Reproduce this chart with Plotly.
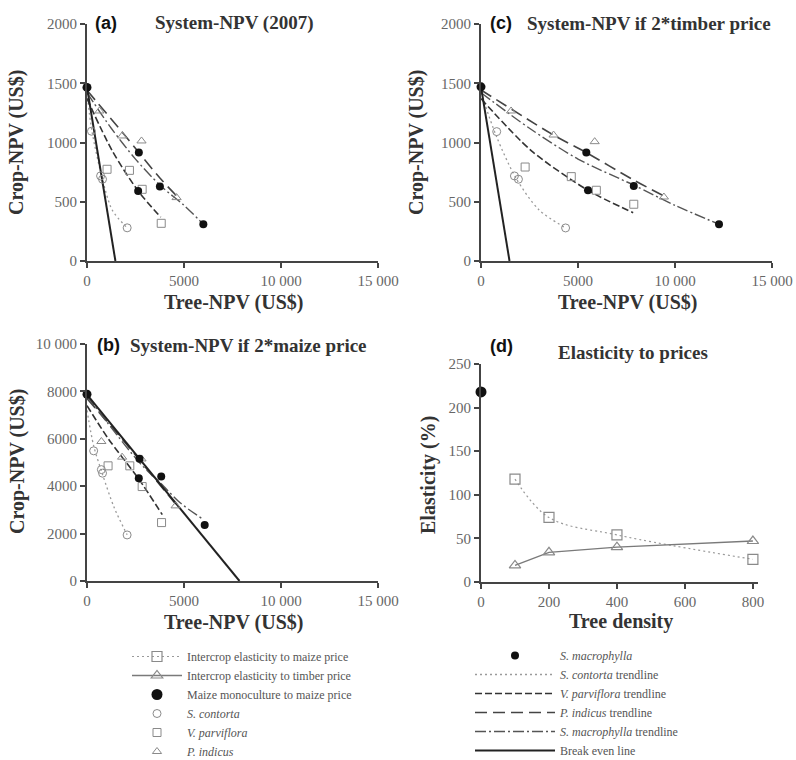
import plotly.graph_objects as go

# ---------------- data ----------------
# Panel (a) System-NPV (2007): tree-NPV (x) vs crop-NPV (y)
mono_a_x = [0]; mono_a_y = [1465]
a_contorta_x = [230, 700, 800, 2070]; a_contorta_y = [1095, 718, 690, 280]
a_parviflora_x = [1034, 2188, 2844, 3826]; a_parviflora_y = [774, 765, 605, 318]
a_indicus_x = [638, 1810, 2810, 4617]; a_indicus_y = [1266, 1055, 1013, 535]
a_macro_x = [2672, 2637, 3757, 5997]; a_macro_y = [915, 591, 628, 310]
a_tr_contorta_x = [0, 250, 750, 1300, 2070]; a_tr_contorta_y = [1420, 1100, 720, 430, 280]
a_tr_parviflora_x = [0, 1300, 2637, 3800]; a_tr_parviflora_y = [1370, 930, 591, 370]
a_tr_indicus_x = [0, 1800, 2672, 3757, 4617]; a_tr_indicus_y = [1440, 1090, 915, 700, 550]
a_tr_macro_x = [0, 1250, 2500, 3757, 5000, 5997]; a_tr_macro_y = [1420, 1120, 860, 640, 470, 310]
a_break_x = [0, 1465]; a_break_y = [1465, 0]

# Panel (c) System-NPV if 2*timber price
mono_c_x = [0]; mono_c_y = [1470]
c_contorta_x = [810, 1723, 1930, 4360]; c_contorta_y = [1092, 718, 690, 279]
c_parviflora_x = [2275, 4653, 5945, 7875]; c_parviflora_y = [793, 712, 597, 479]
c_indicus_x = [1551, 3740, 5860, 9427]; c_indicus_y = [1266, 1063, 1007, 540]
c_macro_x = [5429, 5515, 7875, 12268]; c_macro_y = [915, 597, 633, 310]
c_tr_contorta_x = [0, 800, 1800, 3000, 4360]; c_tr_contorta_y = [1420, 1050, 700, 430, 279]
c_tr_parviflora_x = [0, 2600, 5515, 7843]; c_tr_parviflora_y = [1370, 930, 597, 408]
c_tr_indicus_x = [0, 3740, 5429, 7800, 9373]; c_tr_indicus_y = [1443, 1063, 915, 690, 553]
c_tr_macro_x = [0, 2500, 5000, 7875, 10000, 12268]; c_tr_macro_y = [1420, 1120, 860, 640, 470, 310]
c_break_x = [0, 1470]; c_break_y = [1470, 0]

# Panel (b) System-NPV if 2*maize price
mono_b_x = [0]; mono_b_y = [7880]
b_contorta_x = [344, 740, 800, 2068]; b_contorta_y = [5493, 4700, 4549, 1943]
b_parviflora_x = [1086, 2206, 2844, 3843]; b_parviflora_y = [4859, 4859, 3985, 2465]
b_indicus_x = [741, 1810, 2810, 4567]; b_indicus_y = [5886, 5225, 5150, 3169]
b_macro_x = [2705, 2670, 3826, 6066]; b_macro_y = [5154, 4338, 4408, 2366]
b_tr_contorta_x = [0, 344, 800, 1400, 2068]; b_tr_contorta_y = [7200, 5700, 4500, 3100, 1950]
b_tr_parviflora_x = [0, 1100, 2670, 3880]; b_tr_parviflora_y = [7400, 6000, 4300, 2800]
b_tr_indicus_x = [0, 1800, 2810, 4567]; b_tr_indicus_y = [7700, 6000, 5000, 3250]
b_tr_macro_x = [0, 2700, 3826, 4800, 5900]; b_tr_macro_y = [7800, 5000, 4100, 3300, 2650]
b_break_x = [0, 7860]; b_break_y = [7860, 0]

# Panel (d) Elasticity to prices
density = [100, 200, 400, 800]
maize_elasticity = [118, 74, 54, 26]
timber_elasticity = [19, 34, 40, 47]
mono_density = [0]; mono_elasticity = [218]

# ticks
npv_x_ticks = [0, 5000, 10000, 15000]; npv_x_text = ["0", "5000", "10 000", "15 000"]
a_y_ticks = [0, 500, 1000, 1500, 2000]; a_y_text = ["0", "500", "1000", "1500", "2000"]
b_y_ticks = [0, 2000, 4000, 6000, 8000, 10000]; b_y_text = ["0", "2000", "4000", "6000", "8000", "10 000"]
d_x_ticks = [0, 200, 400, 600, 800]
d_y_ticks = [0, 50, 100, 150, 200, 250]

# ---------------- style ----------------
SERIF = "Liberation Serif, Times New Roman, serif"
SANS = "Liberation Sans, Arial, sans-serif"
OPEN_C = "#8a8a8a"
BLACK = "#111111"
styles = {
    "contorta": dict(color="#9a9a9a", width=1.3, dash="2px,3px"),
    "parviflora": dict(color="#333333", width=1.6, dash="7px,3px"),
    "indicus": dict(color="#444444", width=1.6, dash="12px,6px"),
    "macro": dict(color="#555555", width=1.4, dash="11px,3px,2px,3px"),
    "break": dict(color="#222222", width=2),
}

fig = go.Figure()

def add_panel(xa, ya, mono, pts, trends, brk, first):
    names = {"contorta": "<i>S. contorta</i> trendline",
             "parviflora": "<i>V. parviflora</i> trendline",
             "indicus": "<i>P. indicus</i> trendline",
             "macro": "<i>S. macrophylla</i> trendline"}
    for key in ["contorta", "parviflora", "indicus", "macro"]:
        tx, ty = trends[key]
        fig.add_trace(go.Scatter(x=tx, y=ty, mode="lines", line=dict(shape="spline", smoothing=0.8, **styles[key]),
                                 xaxis=xa, yaxis=ya, name=names[key], legend="legend2",
                                 showlegend=first, legendrank={"contorta": 2, "parviflora": 3, "indicus": 4, "macro": 5}[key],
                                 hoverinfo="skip"))
    fig.add_trace(go.Scatter(x=brk[0], y=brk[1], mode="lines", line=styles["break"], xaxis=xa, yaxis=ya,
                             name="Break even line", legend="legend2", showlegend=first, legendrank=6,
                             cliponaxis=False))
    sym = {"contorta": ("circle-open", "<i>S. contorta</i>", 4),
           "parviflora": ("square-open", "<i>V. parviflora</i>", 5),
           "indicus": ("triangle-up-open", "<i>P. indicus</i>", 6)}
    for key in ["contorta", "parviflora", "indicus"]:
        px_, py_ = pts[key]
        s, n, r = sym[key]
        fig.add_trace(go.Scatter(x=px_, y=py_, mode="markers",
                                 marker=dict(symbol=s, size=8, color=OPEN_C, line=dict(width=1, color=OPEN_C)),
                                 xaxis=xa, yaxis=ya, name=n, legend="legend", showlegend=first, legendrank=r))
    mx, my = pts["macro"]
    fig.add_trace(go.Scatter(x=mx, y=my, mode="markers", marker=dict(symbol="circle", size=8, color=BLACK),
                             xaxis=xa, yaxis=ya, name="<i>S. macrophylla</i>", legend="legend2",
                             showlegend=first, legendrank=1))
    fig.add_trace(go.Scatter(x=mono[0], y=mono[1], mode="markers", marker=dict(symbol="circle", size=9, color=BLACK),
                             xaxis=xa, yaxis=ya, showlegend=False, cliponaxis=False))

add_panel("x", "y", (mono_a_x, mono_a_y),
          {"contorta": (a_contorta_x, a_contorta_y), "parviflora": (a_parviflora_x, a_parviflora_y),
           "indicus": (a_indicus_x, a_indicus_y), "macro": (a_macro_x, a_macro_y)},
          {"contorta": (a_tr_contorta_x, a_tr_contorta_y), "parviflora": (a_tr_parviflora_x, a_tr_parviflora_y),
           "indicus": (a_tr_indicus_x, a_tr_indicus_y), "macro": (a_tr_macro_x, a_tr_macro_y)},
          (a_break_x, a_break_y), False)
add_panel("x2", "y2", (mono_c_x, mono_c_y),
          {"contorta": (c_contorta_x, c_contorta_y), "parviflora": (c_parviflora_x, c_parviflora_y),
           "indicus": (c_indicus_x, c_indicus_y), "macro": (c_macro_x, c_macro_y)},
          {"contorta": (c_tr_contorta_x, c_tr_contorta_y), "parviflora": (c_tr_parviflora_x, c_tr_parviflora_y),
           "indicus": (c_tr_indicus_x, c_tr_indicus_y), "macro": (c_tr_macro_x, c_tr_macro_y)},
          (c_break_x, c_break_y), False)
add_panel("x3", "y3", (mono_b_x, mono_b_y),
          {"contorta": (b_contorta_x, b_contorta_y), "parviflora": (b_parviflora_x, b_parviflora_y),
           "indicus": (b_indicus_x, b_indicus_y), "macro": (b_macro_x, b_macro_y)},
          {"contorta": (b_tr_contorta_x, b_tr_contorta_y), "parviflora": (b_tr_parviflora_x, b_tr_parviflora_y),
           "indicus": (b_tr_indicus_x, b_tr_indicus_y), "macro": (b_tr_macro_x, b_tr_macro_y)},
          (b_break_x, b_break_y), True)

# panel (d)
fig.add_trace(go.Scatter(x=density, y=maize_elasticity, mode="lines+markers",
                         line=dict(color="#9a9a9a", width=1.2, dash="2px,3px", shape="spline"),
                         marker=dict(symbol="square-open", size=10, color=OPEN_C, line=dict(width=1.2, color=OPEN_C)),
                         xaxis="x4", yaxis="y4", name="Intercrop elasticity to maize price",
                         legend="legend", legendrank=1, cliponaxis=False))
fig.add_trace(go.Scatter(x=density, y=timber_elasticity, mode="lines+markers",
                         line=dict(color="#7a7a7a", width=1.4),
                         marker=dict(symbol="triangle-up-open", size=10, color=OPEN_C, line=dict(width=1.2, color=OPEN_C)),
                         xaxis="x4", yaxis="y4", name="Intercrop elasticity to timber price",
                         legend="legend", legendrank=2, cliponaxis=False))
fig.add_trace(go.Scatter(x=mono_density, y=mono_elasticity, mode="markers",
                         marker=dict(symbol="circle", size=11, color=BLACK),
                         xaxis="x4", yaxis="y4", name="Maize monoculture to maize price",
                         legend="legend", legendrank=3, cliponaxis=False))

W, H = 796, 760
def dx(a, b): return [a / W, b / W]
def dy(top, bot): return [1 - bot / H, 1 - top / H]

axis_common = dict(showline=True, linecolor="#444444", linewidth=2, ticks="outside", ticklen=5,
                   tickcolor="#444444", tickwidth=1.5, showgrid=False, zeroline=False,
                   tickfont=dict(family=SERIF, size=15, color="#666666"), fixedrange=True)

fig.update_layout(
    width=W, height=H, margin=dict(l=0, r=0, t=0, b=0, autoexpand=False),
    paper_bgcolor="white", plot_bgcolor="white",
    xaxis=dict(domain=dx(87, 378), range=[0, 15000], anchor="y", tickvals=npv_x_ticks, ticktext=npv_x_text, **axis_common),
    yaxis=dict(domain=dy(24, 261), range=[0, 2000], anchor="x", tickvals=a_y_ticks, ticktext=a_y_text, **axis_common),
    xaxis2=dict(domain=dx(481, 772), range=[0, 15000], anchor="y2", tickvals=npv_x_ticks, ticktext=npv_x_text, **axis_common),
    yaxis2=dict(domain=dy(24, 261), range=[0, 2000], anchor="x2", tickvals=a_y_ticks, ticktext=a_y_text, **axis_common),
    xaxis3=dict(domain=dx(87, 378), range=[0, 15000], anchor="y3", tickvals=npv_x_ticks, ticktext=npv_x_text, **axis_common),
    yaxis3=dict(domain=dy(344, 581), range=[0, 10000], anchor="x3", tickvals=b_y_ticks, ticktext=b_y_text, **axis_common),
    xaxis4=dict(domain=dx(481, 758), range=[0, 815], anchor="y4", tickvals=d_x_ticks, **axis_common),
    yaxis4=dict(domain=dy(364, 582), range=[0, 250], anchor="x4", tickvals=d_y_ticks, **axis_common),
    legend=dict(x=127 / W, y=1 - 642 / H, xanchor="left", yanchor="top", bgcolor="rgba(0,0,0,0)",
                font=dict(family=SERIF, size=12, color="#555555"), tracegroupgap=0, itemwidth=50,
                traceorder="normal"),
    legend2=dict(x=470 / W, y=1 - 641 / H, xanchor="left", yanchor="top", bgcolor="rgba(0,0,0,0)",
                 font=dict(family=SERIF, size=12, color="#555555"), tracegroupgap=0, itemwidth=80,
                 traceorder="normal"),
    hovermode=False,
)

ann = []
def text(x, y, t, size=17, family=SERIF, color="#333333", xanchor="center", angle=0, bold=True):
    ann.append(dict(x=x / W, y=1 - y / H, xref="paper", yref="paper", text=("<b>%s</b>" % t) if bold else t,
                    showarrow=False, xanchor=xanchor, yanchor="middle", textangle=angle,
                    font=dict(family=family, size=size, color=color)))

# panel letters and titles
text(93, 23, "(a)", size=18, family=SANS, color="#111111", xanchor="left")
text(153, 23, "System-NPV (2007)", size=19, xanchor="left")
text(488, 23, "(c)", size=18, family=SANS, color="#111111", xanchor="left")
text(525, 23, "System-NPV if 2*timber price", size=19, xanchor="left")
text(95, 345, "(b)", size=18, family=SANS, color="#111111", xanchor="left")
text(128, 345, "System-NPV if 2*maize price", size=19, xanchor="left")
text(488, 346, "(d)", size=18, family=SANS, color="#111111", xanchor="left")
text(633, 352, "Elasticity to prices", size=19)
# axis titles
text(233, 302, "Tree-NPV (US$)", size=20)
text(627, 302, "Tree-NPV (US$)", size=20)
text(233, 622, "Tree-NPV (US$)", size=20)
text(621, 621, "Tree density", size=20)
text(17, 143, "Crop-NPV (US$)", size=20, angle=-90)
text(417, 143, "Crop-NPV (US$)", size=20, angle=-90)
text(17, 462, "Crop-NPV (US$)", size=20, angle=-90)
text(428, 475, "Elasticity (%)", size=20, angle=-90)
fig.update_layout(annotations=ann)

fig.write_html("out.html", config={"displayModeBar": False},
               post_script="document.body.style.margin='0';document.body.style.overflow='hidden';")
